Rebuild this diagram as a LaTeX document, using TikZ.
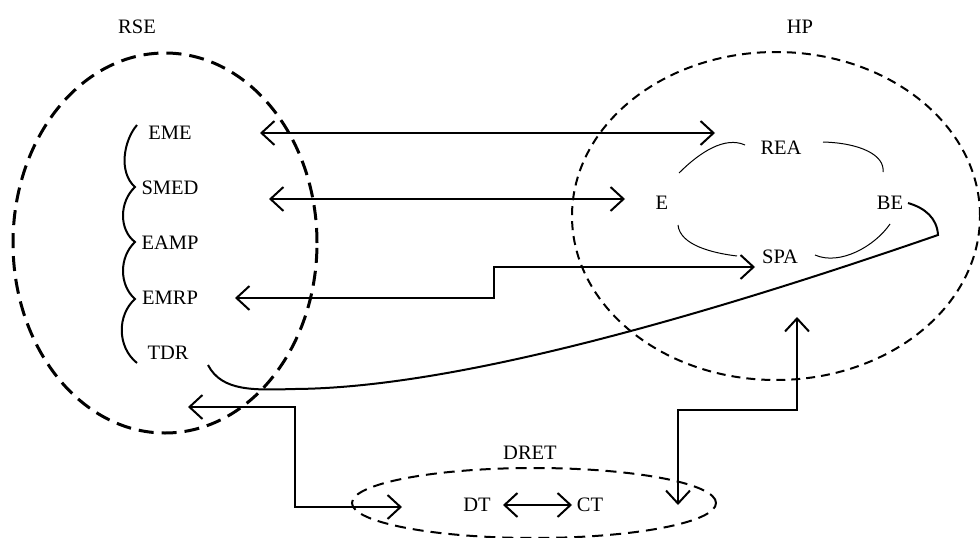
\documentclass[tikz,border=0pt]{standalone}
\usepackage{fontspec}
\setmainfont{Liberation Serif}
\usetikzlibrary{arrows.meta,shapes.geometric}
\begin{document}
\begin{tikzpicture}[x=1pt,y=-1pt,
  lbl/.style={inner sep=0pt, font=\fontsize{20.5}{24}\selectfont},
  conn/.style={line width=2pt},
  barb/.tip={Straight Barb[length=13pt,width=24pt]},
  dbl/.style={conn, barb-barb},
  thinarc/.style={line width=1pt},
  region/.style={draw, ellipse, inner sep=0pt, outer sep=0pt},
  rsestyle/.style={region, line width=3pt, dash pattern=on 15pt off 8pt},
  hpstyle/.style={region, line width=2pt, dash pattern=on 9pt off 6pt},
  dretstyle/.style={region, line width=2pt, dash pattern=on 11pt off 7pt},
]
\useasboundingbox (0,0) rectangle (980,538);

% regions
\node[rsestyle, minimum width=304pt, minimum height=380pt] (rse) at (165,243) {};
\node[hpstyle, minimum width=408pt, minimum height=328pt] (hp) at (776,216) {};
\node[dretstyle, minimum width=364pt, minimum height=70pt] (dret) at (534,503) {};

% titles
\node[lbl] (tRSE) at (137,27) {RSE};
\node[lbl] (tHP) at (800,27) {HP};
\node[lbl] (tDRET) at (530,453) {DRET};

% left items
\node[lbl] (EME) at (170,133) {EME};
\node[lbl] (SMED) at (170,188) {SMED};
\node[lbl] (EAMP) at (170,243) {EAMP};
\node[lbl] (EMRP) at (170,298) {EMRP};
\node[lbl] (TDR) at (168,353) {TDR};

% brace
\draw[conn] (137,125) .. controls (124,140) and (118,172) .. (135,187)
  .. controls (119,202) and (119,230) .. (135,242)
  .. controls (119,257) and (119,285) .. (135,299)
  .. controls (117,315) and (117,347) .. (137,363);

% HP items
\node[lbl] (REA) at (781,148) {REA};
\node[lbl] (E) at (662,203) {E};
\node[lbl] (BE) at (890,203) {BE};
\node[lbl] (SPA) at (780,257) {SPA};

\draw[thinarc] (679,173) .. controls (700,152) and (725,136) .. (745,145);
\draw[thinarc] (823,142) .. controls (860,143) and (885,155) .. (883,172);
\draw[thinarc] (678,225) .. controls (680,245) and (712,253) .. (737,256);
\draw[thinarc] (815,255) .. controls (840,266) and (875,246) .. (890,224);

% DRET items
\node[lbl] (DT) at (477,505) {DT};
\node[lbl] (CT) at (590,505) {CT};

% connector end points
\coordinate (a1l) at (260,133);
\coordinate (a1r) at (715,133);
\coordinate (a2l) at (269,199);
\coordinate (a2r) at (625,199);
\coordinate (a3l) at (235,298);
\coordinate (a3s) at (494,298);
\coordinate (a3r) at (755,267);
\coordinate (b1l) at (188,407);
\coordinate (b1s) at (295,407);
\coordinate (b1r) at (402,507);
\coordinate (b2d) at (678,505);
\coordinate (b2s) at (678,410);
\coordinate (b2u) at (797,317);
\coordinate (dtr) at (503,505);
\coordinate (ctl) at (572,505);
\coordinate (tdrs) at (208,365);
\coordinate (tdrm) at (295,389);
\coordinate (knee) at (938,235);
\coordinate (bee) at (908,203);

\draw[dbl] (a1l) -- (a1r);
\draw[dbl] (a2l) -- (a2r);
\draw[dbl] (a3l) -- (a3s) |- (a3r);
\draw[dbl] (b1l) -| (b1s |- b1r) -- (b1r);
\draw[dbl] (b2d) -- (b2s) -| (b2u);
\draw[dbl] (dtr) -- (ctl);

\draw[conn] (tdrs) .. controls (222,392) and (255,390) .. (tdrm)
  .. controls (420,388) and (620,345) .. (knee)
  .. controls (937,218) and (925,208) .. (bee);
\end{tikzpicture}
\end{document}
